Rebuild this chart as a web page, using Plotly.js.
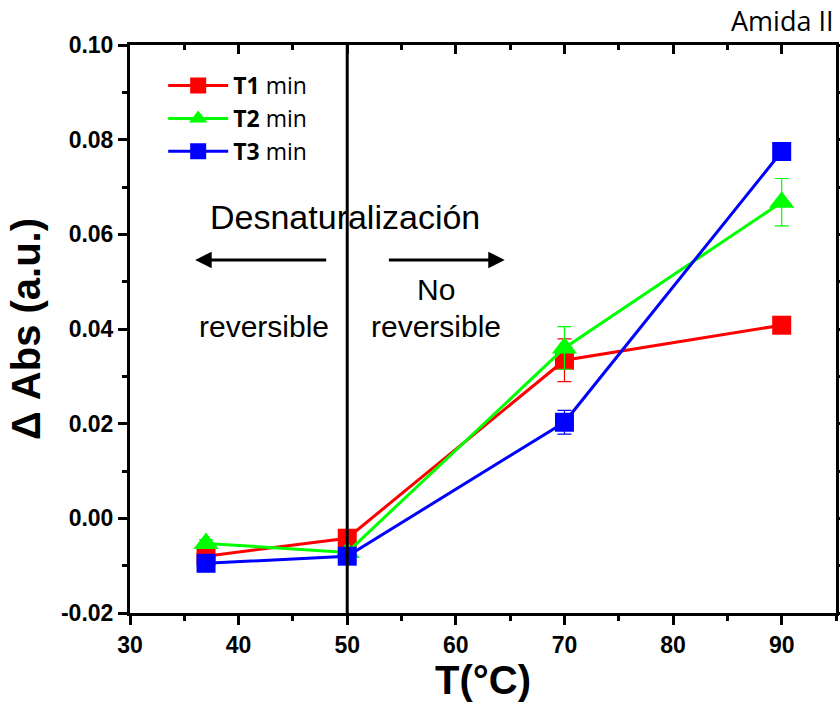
<!DOCTYPE html>
<html><head><meta charset="utf-8">
<script src="https://cdn.plot.ly/plotly-3.0.1.min.js"></script>
<style>body{margin:0;background:#fff}#c{width:840px;height:719px}</style>
</head><body><div id="c"></div>
<script>
const temps = [37, 50, 70, 90];
const t1 = [-0.0080, -0.0042, 0.0334, 0.0408];
const t1err = [0.0008, 0.0008, 0.0045, 0.0008];
const t2 = [-0.0053, -0.0072, 0.0360, 0.0668];
const t2err = [0.0008, 0.0008, 0.0045, 0.0050];
const t3 = [-0.0095, -0.0080, 0.0203, 0.0775];
const t3err = [0.0008, 0.0008, 0.0025, 0.0008];
const names = ['<b>T1</b> min', '<b>T2</b> min', '<b>T3</b> min'];
const xTicks = [30, 40, 50, 60, 70, 80, 90];
const yTicks = [-0.02, 0.00, 0.02, 0.04, 0.06, 0.08, 0.10];

function tr(y, e, color, sym, size, name) {
  return {x: temps, y: y, name: name, type: 'scatter', mode: 'lines+markers',
    line: {color: color, width: 3},
    marker: {color: color, symbol: sym, size: size},
    error_y: {type: 'data', array: e, visible: true, color: color, thickness: 1.2, width: 7}};
}
const data = [
  tr(t1, t1err, '#ff0000', 'square', 19, names[0]),
  tr(t2, t2err, '#00ff00', 'triangle-up', 22, names[1]),
  tr(t3, t3err, '#0000ff', 'square', 19, names[2]),
  {x: [null], y: [null], xaxis: 'x2', showlegend: false}
];
const tickFont = {family: 'Liberation Sans, Arial', size: 23, color: '#000', weight: 'bold'};
const txtFont = (s) => ({family: 'Liberation Sans, Arial', size: s, color: '#000'});
const layout = {
  width: 840, height: 719,
  margin: {l: 130, r: 4, t: 45, b: 106},
  paper_bgcolor: '#fff', plot_bgcolor: '#fff',
  showlegend: true,
  legend: {x: 0.047, y: 0.9665, xanchor: 'left', yanchor: 'top', bgcolor: 'rgba(0,0,0,0)',
    font: {family: 'Open Sans, Noto Sans, sans-serif', size: 23, color: '#000'}, tracegroupgap: 0, itemwidth: 60},
  xaxis: {range: [30, 95], tickvals: xTicks, ticktext: xTicks.map(String),
    ticks: 'outside', ticklen: 9, tickwidth: 3, tickcolor: '#000',
    minor: {dtick: 5, ticks: 'outside', ticklen: 5, tickwidth: 3, tickcolor: '#000'},
    showline: true, linewidth: 3, linecolor: '#000', mirror: true, showgrid: false, zeroline: false,
    tickfont: tickFont,
    title: {text: '<b>T(°C)</b>', font: {family: 'Liberation Sans, Arial', size: 40, color: '#000'}, standoff: 10}},
  xaxis2: {overlaying: 'x', side: 'top', range: [30, 95], tickvals: xTicks, ticks: 'inside', ticklen: 9, tickwidth: 3,
    tickcolor: '#000', showticklabels: false, showgrid: false, zeroline: false, showline: false,
    minor: {dtick: 5, ticks: 'inside', ticklen: 5, tickwidth: 3, tickcolor: '#000'}},
  yaxis: {range: [-0.02, 0.10], tickvals: yTicks, ticktext: yTicks.map(v => v.toFixed(2)),
    ticks: 'outside', ticklen: 9, tickwidth: 3, tickcolor: '#000',
    minor: {dtick: 0.01, ticks: 'outside', ticklen: 5, tickwidth: 3, tickcolor: '#000'},
    showline: true, linewidth: 3, linecolor: '#000', mirror: 'ticks', showgrid: false, zeroline: false,
    tickfont: tickFont,
    title: {text: '<b>Δ Abs (a.u.)</b>', font: {family: 'Liberation Sans, Arial', size: 40, color: '#000'}, standoff: 8}},
  shapes: [
    {type: 'line', xref: 'x', yref: 'paper', x0: 50, x1: 50, y0: 0, y1: 1, line: {color: '#000', width: 3}}
  ],
  annotations: [
    {xref: 'paper', yref: 'paper', x: 1, y: 1.044, xanchor: 'right', yanchor: 'middle', showarrow: false,
      text: 'Amida II', font: {family: 'Open Sans, Noto Sans, sans-serif', size: 27, color: '#000'}},
    {xref: 'x', yref: 'y', x: 49.8, y: 0.0636, showarrow: false, text: 'Desnaturalización', font: txtFont(34)},
    {xref: 'x', yref: 'y', x: 36, y: 0.0546, ax: 48.2, ay: 0.0546, axref: 'x', ayref: 'y', showarrow: true,
      arrowhead: 2, arrowsize: 1.1, arrowwidth: 3, arrowcolor: '#000', text: ''},
    {xref: 'x', yref: 'y', x: 64.5, y: 0.0546, ax: 53.7, ay: 0.0546, axref: 'x', ayref: 'y', showarrow: true,
      arrowhead: 2, arrowsize: 1.1, arrowwidth: 3, arrowcolor: '#000', text: ''},
    {xref: 'x', yref: 'y', x: 42.3, y: 0.0405, showarrow: false, text: 'reversible', font: txtFont(30)},
    {xref: 'x', yref: 'y', x: 58.2, y: 0.0483, showarrow: false, text: 'No', font: txtFont(30)},
    {xref: 'x', yref: 'y', x: 58.2, y: 0.0405, showarrow: false, text: 'reversible', font: txtFont(30)}
  ]
};
Plotly.newPlot('c', data, layout, {staticPlot: true});
</script></body></html>
